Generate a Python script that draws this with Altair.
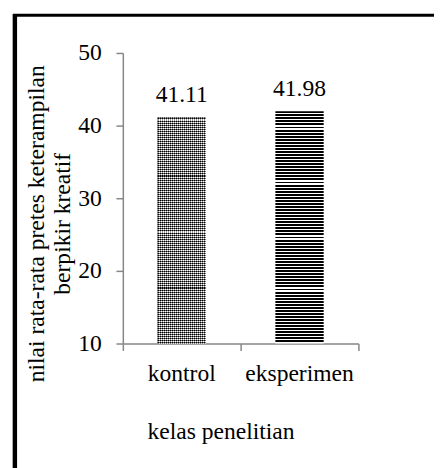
import altair as alt
import pandas as pd

categories = ["kontrol", "eksperimen"]
values = [41.11, 41.98]
value_labels = ["41.11", "41.98"]
y_ticks = [10, 20, 30, 40, 50]
y_title = ["nilai rata-rata pretes keterampilan", "berpikir kreatif"]
x_title = "kelas penelitian"

df = pd.DataFrame({"kelas": categories, "nilai": values, "label": value_labels})

FONT = "'Liberation Serif', 'Times New Roman', serif"
GRAY = "#868686"


def stripes(n, dark, light, dark_frac, along_x):
    stops = []
    for i in range(n):
        a = i / n
        b = (i + dark_frac) / n
        c = min((i + 1) / n, 1.0)
        stops += [
            alt.GradientStop(offset=a, color=dark),
            alt.GradientStop(offset=b, color=dark),
            alt.GradientStop(offset=b, color=light),
            alt.GradientStop(offset=c, color=light),
        ]
    if along_x:
        return alt.LinearGradient(gradient="linear", stops=stops, x1=0, x2=1, y1=0, y2=0)
    return alt.LinearGradient(gradient="linear", stops=stops, x1=0, x2=0, y1=0, y2=1)


x_enc = alt.X(
    "kelas:N",
    sort=categories,
    scale=alt.Scale(paddingInner=0, paddingOuter=0),
    axis=alt.Axis(
        title=x_title,
        labelAngle=0,
        bandPosition=1,
        tickExtra=True,
        tickSize=7,
        tickWidth=1.5,
        tickColor=GRAY,
        domainColor=GRAY,
        domainWidth=1.5,
        labelFont=FONT,
        labelFontSize=24,
        labelColor="black",
        labelPadding=12,
        titleFont=FONT,
        titleFontSize=24,
        titleFontWeight="normal",
        titleColor="black",
        titleX=99.5,
        titleY=97,
        titleAlign="center",
        titleBaseline="alphabetic",
    ),
)

y_enc = alt.Y(
    "nilai:Q",
    scale=alt.Scale(domain=[10, 50], nice=False, zero=False),
    axis=alt.Axis(
        values=y_ticks,
        grid=False,
        tickSize=7,
        tickWidth=1.5,
        tickColor=GRAY,
        domainColor=GRAY,
        domainWidth=1.5,
        labelFont=FONT,
        labelFontSize=24,
        labelColor="black",
        labelPadding=15,
        title=y_title,
        titleFont=FONT,
        titleFontSize=24,
        titleFontWeight="normal",
        titleColor="black",
        titleLineHeight=27,
        titleAngle=270,
        titleAlign="center",
        titleBaseline="top",
        titleX=-100,
        titleY=173.5,
    ),
)

base = alt.Chart(df)

bar_k = base.transform_filter(alt.datum.kelas == "kontrol").mark_bar(
    width=alt.RelativeBandSize(0.41),
    color=stripes(24, "#000000", "#ffffff", 0.55, True),
).encode(x=x_enc, y=y_enc, y2=alt.datum(10))

bar_k2 = base.transform_filter(alt.datum.kelas == "kontrol").mark_bar(
    width=alt.RelativeBandSize(0.41),
    color=stripes(115, "#000000", "#ffffff", 0.5, False),
    opacity=0.6,
).encode(x=x_enc, y=y_enc, y2=alt.datum(10))

bar_e = base.transform_filter(alt.datum.kelas == "eksperimen").mark_bar(
    width=alt.RelativeBandSize(0.41),
    color=stripes(76, "#000000", "#ffffff", 0.64, False),
).encode(x=x_enc, y=y_enc, y2=alt.datum(10))

text = base.mark_text(
    dy=-16, baseline="alphabetic", align="center", font=FONT, fontSize=24, color="black"
).encode(x=x_enc, y=y_enc, text="label:N")

frame_data = alt.Data(values=[{"f": 1}])
left_border = alt.Chart(frame_data).mark_rule(color="black", strokeWidth=4.5).encode(
    x=alt.value(-110), y=alt.value(-39.5), y2=alt.value(430)
)
top_border = alt.Chart(frame_data).mark_rule(color="black", strokeWidth=3).encode(
    x=alt.value(-112), x2=alt.value(330), y=alt.value(-38.5)
)

chart = (
    alt.layer(bar_k, bar_k2, bar_e, text, left_border, top_border)
    .properties(
        width=240,
        height=296,
        autosize=alt.AutoSizeParams(type="none"),
        padding={"left": 117, "top": 41.5, "right": 77, "bottom": 122.5},
        background="white",
    )
    .configure_view(stroke=None)
)

chart.save("out.html", embed_options={"renderer": "svg", "actions": False})
